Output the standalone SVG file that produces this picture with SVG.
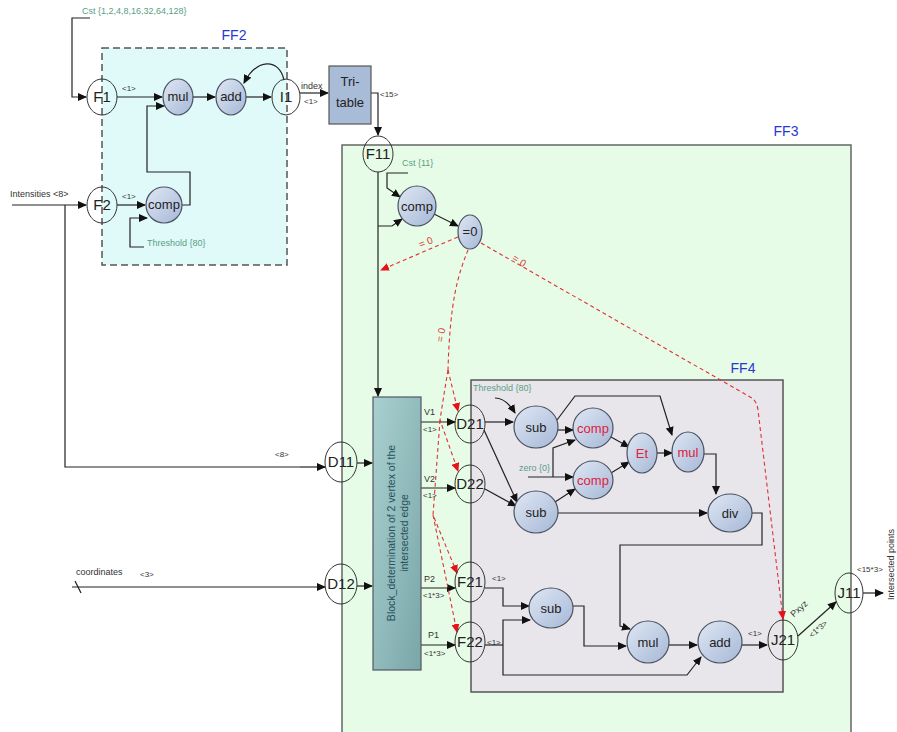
<svg xmlns="http://www.w3.org/2000/svg" width="897" height="732" viewBox="0 0 897 732">
<style>
text{font-family:"Liberation Sans",Arial,sans-serif;fill:#222}
.lbl{font-size:8px;fill:#333}
.lb9{font-size:9px;fill:#333}
.grn{font-size:9px;fill:#5a9e84}
.ff{font-size:14px;fill:#2a36d2}
.nt{font-size:15px;text-anchor:middle}
.bt{font-size:13px;text-anchor:middle}
.rt{font-size:13px;text-anchor:middle;fill:#e0203c}
.fn{fill:none;stroke:#333;stroke-width:1}
.bn{fill:url(#bg);stroke:#4a5262;stroke-width:1.2}
.ln{fill:none;stroke:#222;stroke-width:1.2;marker-end:url(#ar)}
.pl{fill:none;stroke:#222;stroke-width:1.2}
.rd{fill:none;stroke:#e0303a;stroke-width:1.1;stroke-dasharray:4,3}
.ra{marker-end:url(#rar)}
.rl{font-size:10px;fill:#d8403a}
</style>
<defs>
<linearGradient id="bg" x1="0" y1="0" x2="1" y2="1">
<stop offset="0" stop-color="#dfe7f4"/><stop offset="1" stop-color="#a6b8d6"/>
</linearGradient>
<linearGradient id="tg" x1="0" y1="0" x2="1" y2="1">
<stop offset="0" stop-color="#a9d0d0"/><stop offset="1" stop-color="#7aa6a8"/>
</linearGradient>
<marker id="ar" markerWidth="9" markerHeight="8" refX="8" refY="4" orient="auto" markerUnits="userSpaceOnUse">
<path d="M0,0 L9,4 L0,8 z" fill="#111"/>
</marker>
<marker id="rar" markerWidth="9" markerHeight="8" refX="8" refY="4" orient="auto" markerUnits="userSpaceOnUse">
<path d="M0,0 L9,4 L0,8 z" fill="#e8101a"/>
</marker>
</defs>

<!-- containers -->
<g id="FF2">
<rect x="102" y="48" width="185" height="217" fill="#e0fafa" stroke="#555" stroke-width="1.5" stroke-dasharray="7,4"/>
<text x="234" y="40" class="ff" text-anchor="middle">FF2</text>
</g>
<g id="FF3">
<rect x="342" y="145" width="509" height="600" fill="#e7fce7" stroke="#666" stroke-width="1.5"/>
<text x="786" y="136" class="ff" text-anchor="middle">FF3</text>
</g>
<g id="FF4">
<rect x="471" y="380" width="312" height="312" fill="#e8e6ea" stroke="#555" stroke-width="1.5"/>
<text x="743" y="373" class="ff" text-anchor="middle">FF4</text>
</g>

<!-- connectors -->
<g id="connectors">
<path class="ln" d="M90 18 H72 V97 H86"/>
<path class="ln" d="M117 97 H162"/>
<path class="ln" d="M193 97 H215"/>
<path class="ln" d="M246 97 H271"/>
<path class="ln" d="M284 80 C279 58 257 58 244 83"/>
<path class="ln" d="M12 205 H86"/>
<path class="pl" d="M65 205 V467 H300"/>
<path class="ln" d="M300 467 H325"/>
<path class="ln" d="M117 205 H145"/>
<path class="ln" d="M144 247 H130 V218 H147"/>
<path class="ln" d="M182 205 H190 V172 H147 V106 H164"/>
<path class="ln" d="M300 93 H328"/>
<path class="ln" d="M371 93 H378 V135"/>
<path class="ln" d="M408 173 H387 V188 L400 197"/>
<path class="ln" d="M378 172 V396"/>
<path class="ln" d="M378 226 H392 L402 219"/>
<path class="ln" d="M434 214 L458 226"/>
<path class="ln" d="M357 463 H372"/>
<path class="ln" d="M357 586 H372"/>
<path class="ln" d="M72 587 H325"/>
<path class="pl" d="M75 581 L81 593"/>
<path class="ln" d="M421 422 H455"/>
<path class="ln" d="M421 488 H455"/>
<path class="ln" d="M421 588 H455"/>
<path class="ln" d="M421 645 H455"/>
<path class="ln" d="M495 398 Q506 398 515 413"/>
<path class="ln" d="M485 422 H513"/>
<path class="ln" d="M557 420 L575 396 H660 L672 435"/>
<path class="ln" d="M558 430 H573"/>
<path class="ln" d="M528 477 H573"/>
<path class="ln" d="M553 477 V448 L575 440"/>
<path class="ln" d="M611 437 L629 447"/>
<path class="ln" d="M611 473 L629 462"/>
<path class="ln" d="M657 453 H672"/>
<path class="ln" d="M704 454 H716 V494"/>
<path class="ln" d="M484 430 L517 502"/>
<path class="ln" d="M485 489 L516 506"/>
<path class="ln" d="M555 502 L575 489"/>
<path class="ln" d="M558 513 H707"/>
<path class="ln" d="M752 513 H762 V545 H620 V626 L630 629"/>
<path class="ln" d="M485 588 H503 V606 H529"/>
<path class="pl" d="M485 645 H503"/>
<path class="ln" d="M503 645 V620 H530"/>
<path class="ln" d="M503 645 V675 H687 L701 657"/>
<path class="ln" d="M573 606 H584 V646 H626"/>
<path class="ln" d="M669 645 H697"/>
<path class="ln" d="M742 645 H767"/>
<path class="ln" d="M798 636 L836 602"/>
<path class="ln" d="M863 593 H883"/>
<!-- red dashed -->
<path class="rd ra" d="M458 237 L381 270"/>
<path class="rd ra" d="M481 243 L752 398 Q757 402 758 410 L783 619"/>
<path class="rd" d="M468 250 C458 275 450 300 448 370"/>
<path class="rd ra" d="M448 370 L458 411"/>
<path class="rd ra" d="M448 370 Q443 400 440 420 L458 471"/>
<path class="rd ra" d="M440 420 L433 515 L457 573"/>
<path class="rd ra" d="M433 515 L457 632"/>
</g>

<!-- labels on connectors -->
<g id="labels">
<text x="82" y="14" class="grn">Cst {1,2,4,8,16,32,64,128}</text>
<text x="122" y="91" class="lbl">&lt;1&gt;</text>
<text x="10" y="197" class="lb9">Intensities &lt;8&gt;</text>
<text x="122" y="199" class="lbl">&lt;1&gt;</text>
<text x="147" y="246" class="grn">Threshold {80}</text>
<text x="301" y="89" class="lb9">index</text>
<text x="304" y="104" class="lbl">&lt;1&gt;</text>
<text x="380" y="97" class="lbl">&lt;15&gt;</text>
<text x="402" y="166" class="grn">Cst {11}</text>
<text x="419" y="246" class="rl" transform="rotate(-22 425 243)">= 0</text>
<text x="512" y="264" class="rl" transform="rotate(32 519 261)">= 0</text>
<text x="435" y="339" class="rl" transform="rotate(-80 441 336)">= 0</text>
<text x="275" y="457" class="lbl">&lt;8&gt;</text>
<text x="76" y="575" class="lb9">coordinates</text>
<text x="140" y="577" class="lbl">&lt;3&gt;</text>
<text x="424" y="415" class="lb9">V1</text>
<text x="423" y="432" class="lbl">&lt;1&gt;</text>
<text x="424" y="482" class="lb9">V2</text>
<text x="423" y="498" class="lbl">&lt;1&gt;</text>
<text x="424" y="582" class="lb9">P2</text>
<text x="423" y="598" class="lbl">&lt;1*3&gt;</text>
<text x="428" y="638" class="lb9">P1</text>
<text x="424" y="656" class="lbl">&lt;1*3&gt;</text>
<text x="473" y="391" class="grn">Threshold {80}</text>
<text x="519" y="471" class="grn">zero {0}</text>
<text x="492" y="581" class="lbl">&lt;1&gt;</text>
<text x="487" y="645" class="lbl">&lt;1&gt;</text>
<text x="748" y="636" class="lbl">&lt;1&gt;</text>
<text x="0" y="0" class="lb9" text-anchor="middle" transform="translate(801 611) rotate(-42)">Pxyz</text>
<text x="0" y="0" class="lbl" text-anchor="middle" transform="translate(820 631) rotate(-42)">&lt;1*3&gt;</text>
<text x="857" y="572" class="lbl">&lt;15*3&gt;</text>
<text x="0" y="0" class="lb9" transform="translate(894 600) rotate(-90)">Intersected points</text>
</g>

<!-- nodes -->
<g id="F1"><ellipse cx="102" cy="97" rx="15" ry="18" class="fn"/><text x="102" y="102" class="nt">F1</text></g>
<g id="mul1"><ellipse cx="178" cy="97" rx="15" ry="18" class="bn"/><text x="178" y="101" class="bt">mul</text></g>
<g id="add1"><ellipse cx="231" cy="97" rx="15" ry="18" class="bn"/><text x="231" y="101" class="bt">add</text></g>
<g id="I1"><ellipse cx="286" cy="97" rx="14" ry="18" class="fn"/><text x="286" y="102" class="nt">I1</text></g>
<g id="F2"><ellipse cx="102" cy="205" rx="15" ry="18" class="fn"/><text x="102" y="210" class="nt">F2</text></g>
<g id="comp0"><ellipse cx="164" cy="205" rx="18" ry="18" class="bn"/><text x="164" y="209" class="bt">comp</text></g>
<g id="TriTable"><rect x="329" y="66" width="42" height="58" fill="#a8bbd7" stroke="#555" stroke-width="1.2"/><text x="350" y="86" class="bt" font-size="14">Tri-</text><text x="350" y="107" class="bt" font-size="14">table</text></g>
<g id="F11"><ellipse cx="378" cy="154" rx="15" ry="18" class="fn"/><text x="378" y="159" class="nt">F11</text></g>
<g id="comp1"><ellipse cx="417" cy="206" rx="19" ry="20" class="bn"/><text x="417" y="211" class="bt" font-size="14">comp</text></g>
<g id="eq0"><ellipse cx="470" cy="232" rx="12" ry="17" class="bn"/><text x="470" y="236" class="bt" font-size="10">=0</text></g>
<g id="Block"><rect x="373" y="397" width="48" height="273" fill="url(#tg)" stroke="#556" stroke-width="1.2"/>
<text transform="translate(397 533) rotate(-90)" text-anchor="middle" font-size="10.5" style="fill:#24525c"><tspan x="0" y="-2">Block_determination of 2 vertex of the</tspan><tspan x="0" y="11">intersected edge</tspan></text></g>
<g id="D11"><ellipse cx="341" cy="462" rx="16" ry="20" class="fn"/><text x="341" y="467" class="nt">D11</text></g>
<g id="D12"><ellipse cx="341" cy="584" rx="16" ry="20" class="fn"/><text x="341" y="589" class="nt">D12</text></g>
<g id="D21"><ellipse cx="470" cy="424" rx="15" ry="19" class="fn"/><text x="470" y="429" class="nt">D21</text></g>
<g id="D22"><ellipse cx="470" cy="484" rx="15" ry="19" class="fn"/><text x="470" y="489" class="nt">D22</text></g>
<g id="F21"><ellipse cx="470" cy="582" rx="15" ry="20" class="fn"/><text x="470" y="587" class="nt">F21</text></g>
<g id="F22"><ellipse cx="470" cy="642" rx="15" ry="20" class="fn"/><text x="470" y="647" class="nt">F22</text></g>
<g id="sub1"><ellipse cx="536" cy="427" rx="22" ry="21" class="bn"/><text x="536" y="432" class="bt" font-size="15">sub</text></g>
<g id="sub2"><ellipse cx="536" cy="512" rx="22" ry="21" class="bn"/><text x="536" y="517" class="bt" font-size="15">sub</text></g>
<g id="compA"><ellipse cx="593" cy="428" rx="20" ry="20" class="bn"/><text x="593" y="433" class="rt">comp</text></g>
<g id="compB"><ellipse cx="593" cy="480" rx="20" ry="19" class="bn"/><text x="593" y="485" class="rt">comp</text></g>
<g id="Et"><ellipse cx="642" cy="453" rx="15" ry="20" class="bn"/><text x="642" y="458" class="rt" font-size="15">Et</text></g>
<g id="mul2"><ellipse cx="688" cy="452" rx="16" ry="20" class="bn"/><text x="688" y="457" class="rt" font-size="14">mul</text></g>
<g id="div"><ellipse cx="730" cy="513" rx="22" ry="19" class="bn"/><text x="730" y="518" class="bt" font-size="14">div</text></g>
<g id="sub3"><ellipse cx="551" cy="608" rx="22" ry="20" class="bn"/><text x="551" y="613" class="bt" font-size="14">sub</text></g>
<g id="mul3"><ellipse cx="648" cy="642" rx="21" ry="21" class="bn"/><text x="648" y="647" class="bt" font-size="14">mul</text></g>
<g id="add2"><ellipse cx="720" cy="642" rx="22" ry="21" class="bn"/><text x="720" y="647" class="bt" font-size="14">add</text></g>
<g id="J21"><ellipse cx="783" cy="640" rx="15" ry="20" class="fn"/><text x="783" y="645" class="nt">J21</text></g>
<g id="J11"><ellipse cx="849" cy="593" rx="14" ry="20" class="fn"/><text x="849" y="598" class="nt">J11</text></g>
</svg>
